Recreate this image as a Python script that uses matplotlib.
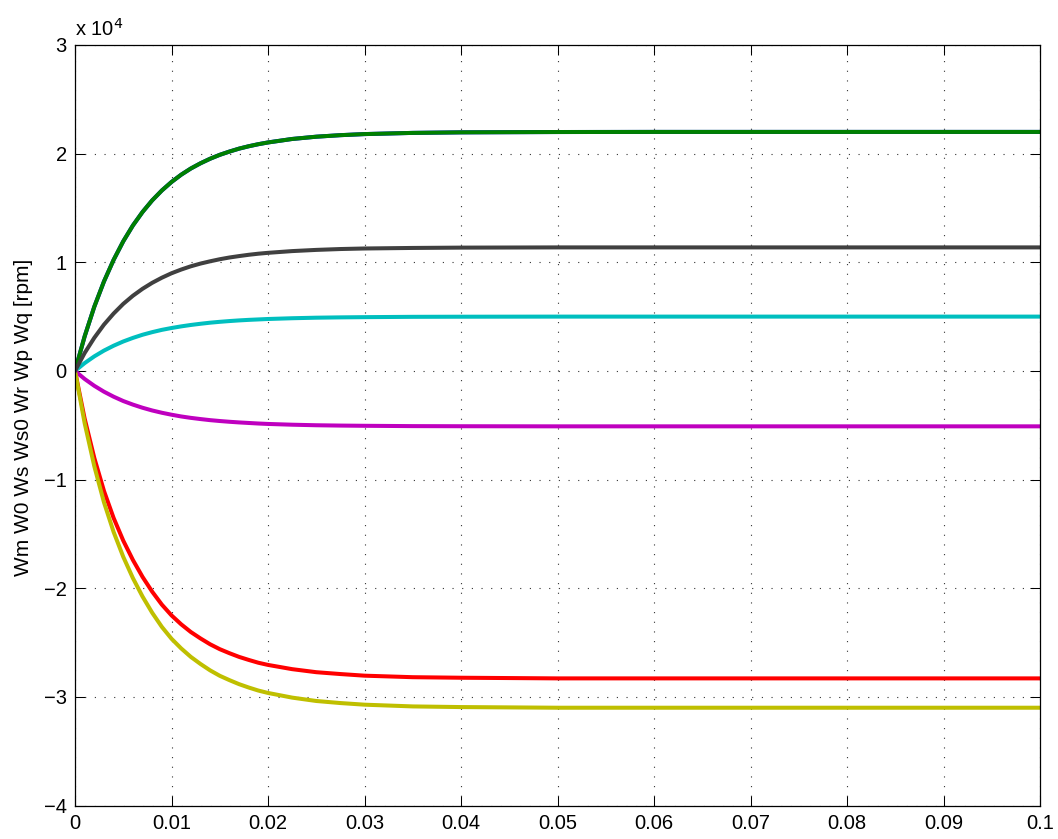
import numpy as np
from matplotlib import pyplot as plt
from matplotlib.ticker import FuncFormatter

plt.rcParams['font.family'] = ['Liberation Sans', 'DejaVu Sans']

# time axis [s]
t = [0, 0.001, 0.002, 0.003, 0.004, 0.005, 0.006, 0.007, 0.008, 0.009, 0.010,
     0.011, 0.012, 0.013, 0.014, 0.015, 0.016, 0.017, 0.018, 0.019, 0.020,
     0.0225, 0.025, 0.0275, 0.030, 0.035, 0.040, 0.050, 0.060, 0.100]

# speeds [rpm]
wm = [0, 3180, 5910, 8230, 10220, 11930, 13390, 14630, 15700, 16610, 17390,
      18060, 18630, 19110, 19530, 19890, 20190, 20460, 20680, 20870, 21030,
      21350, 21560, 21700, 21800, 21910, 21960, 21990, 22000, 22000]
w0 = [0, 3180, 5910, 8230, 10220, 11930, 13390, 14630, 15700, 16610, 17390,
      18060, 18630, 19110, 19530, 19890, 20190, 20460, 20680, 20870, 21030,
      21350, 21560, 21700, 21800, 21910, 21960, 21990, 22000, 22000]
ws = [0, -4390, -8010, -11040, -13530, -15620, -17400, -18960, -20320, -21510, -22500,
      -23320, -24030, -24620, -25160, -25610, -25980, -26320, -26600, -26860, -27060,
      -27450, -27730, -27900, -28050, -28190, -28240, -28300, -28300, -28300]
ws0 = [0, 720, 1340, 1870, 2320, 2710, 3040, 3330, 3570, 3780, 3950,
       4100, 4230, 4340, 4440, 4520, 4590, 4650, 4700, 4740, 4780,
       4850, 4900, 4930, 4950, 4980, 4990, 5000, 5000, 5000]
wr = [0, -740, -1370, -1910, -2370, -2770, -3100, -3390, -3640, -3850, -4030,
      -4190, -4320, -4430, -4530, -4610, -4680, -4740, -4790, -4840, -4880,
      -4950, -5000, -5030, -5050, -5080, -5090, -5100, -5100, -5100]
wp = [0, -4810, -8770, -12090, -14820, -17110, -19070, -20770, -22260, -23560, -24650,
      -25540, -26320, -26970, -27560, -28060, -28460, -28830, -29140, -29420, -29640,
      -30070, -30380, -30570, -30720, -30880, -30940, -31000, -31000, -31000]
wq = [0, 1650, 3050, 4260, 5280, 6170, 6920, 7560, 8110, 8580, 8990,
      9330, 9630, 9880, 10090, 10280, 10440, 10570, 10690, 10790, 10870,
      11030, 11140, 11220, 11270, 11320, 11350, 11370, 11370, 11370]

xticks = [0, 0.01, 0.02, 0.03, 0.04, 0.05, 0.06, 0.07, 0.08, 0.09, 0.1]
xticklabels = ['0', '0.01', '0.02', '0.03', '0.04', '0.05', '0.06', '0.07', '0.08', '0.09', '0.1']
yticks = [-40000, -30000, -20000, -10000, 0, 10000, 20000, 30000]

fig = plt.figure(figsize=(10.58, 8.39), dpi=100)
ax = fig.add_axes([75/1058, 1 - 805.5/839, 965/1058, 760.5/839])

series = [(wm, '#0000ff'), (w0, '#008000'), (ws, '#ff0000'), (ws0, '#00bfbf'),
          (wr, '#bf00bf'), (wp, '#bfbf00'), (wq, '#404040')]
for y, c in series:
    ax.plot(t, y, color=c, linewidth=2.9, solid_joinstyle='round')

ax.set_xlim(0, 0.1)
ax.set_ylim(-40000, 30000)
ax.set_xticks(xticks)
ax.set_xticklabels(xticklabels)
ax.set_yticks(yticks)
ax.yaxis.set_major_formatter(FuncFormatter(lambda v, p: '%d' % round(v/1e4) if v >= 0 else '\u2212%d' % round(-v/1e4)))

ax.grid(True, color='#333333', linestyle=(0, (1, 7.7)), linewidth=0.8)
ax.tick_params(direction='in', length=7, width=0.75, top=True, right=True,
               labelsize=14.5, pad=6, colors='black')
for s in ax.spines.values():
    s.set_linewidth(0.9)

ax.set_ylabel('Wm W0 Ws Ws0 Wr Wp Wq [rpm]', fontsize=15)
ax.yaxis.set_label_coords(-0.0435, 0.51)
fig.text(75/1058, 1 - 36/839, r'x 10$^{4}$', fontsize=14.5, va='baseline', ha='left')

fig.savefig('out.png', dpi=100)
